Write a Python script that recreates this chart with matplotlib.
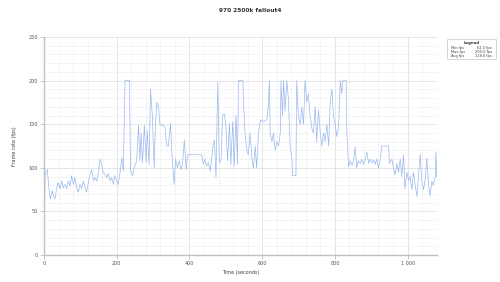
import numpy as np
import matplotlib
matplotlib.use("Agg")
import matplotlib.pyplot as plt
from matplotlib.ticker import MultipleLocator, FuncFormatter
from matplotlib.patches import Rectangle

# valores (tempo em s, fps)
t = [0, 2, 3, 9, 15, 18, 22, 26, 30, 35, 39, 44, 49, 53, 58, 62, 67, 72, 76, 81,
     85, 90, 94, 99, 104, 108, 113, 117, 122, 127, 131, 136, 140, 145, 149, 154,
     159, 163, 168, 172, 177, 182, 186, 191, 195, 200, 204, 209, 214, 218, 223,
     235, 238, 244, 248, 255, 260, 264, 267, 271, 276, 281, 284, 289, 293, 298,
     303, 306, 310, 315, 319, 326, 333, 337, 342, 348, 352, 358, 362, 367, 372,
     377, 381, 386, 391, 395, 402, 415, 434, 438, 443, 447, 452, 457, 461, 464,
     469, 473, 478, 482, 487, 491, 496, 500, 505, 510, 514, 519, 523, 528, 532,
     535, 547, 549, 553, 558, 562, 567, 572, 576, 581, 585, 590, 595, 604, 613,
     617, 620, 622, 627, 631, 636, 640, 645, 650, 652, 656, 659, 663, 668, 672,
     675, 677, 682, 684, 693, 695, 700, 705, 709, 714, 718, 723, 727, 732, 737,
     741, 746, 750, 755, 760, 764, 769, 773, 778, 783, 787, 792, 796, 801, 805,
     810, 815, 819, 822, 831, 833, 838, 842, 847, 851, 856, 860, 865, 870, 874,
     879, 883, 888, 893, 897, 902, 906, 911, 915, 920, 925, 929, 948, 950, 957,
     961, 966, 971, 975, 980, 984, 989, 993, 998, 1003, 1007, 1012, 1016, 1021,
     1026, 1030, 1035, 1039, 1044, 1048, 1053, 1058, 1062, 1067, 1071, 1076, 1078, 1080]
fps = [81, 62, 93, 98, 70, 64, 74, 68, 64, 77, 83, 76, 85, 77, 81, 76, 85, 79, 91, 81,
       89, 77, 72, 81, 76, 85, 77, 72, 83, 93, 98, 85, 89, 85, 93, 110,
       104, 94, 93, 89, 93, 85, 89, 81, 91, 85, 81, 94, 111, 96, 200,
       200, 96, 91, 100, 108, 149, 108, 140, 106, 149, 106, 143, 104, 190, 160,
       100, 142, 175, 170, 149, 149, 147, 126, 125, 151, 115, 81, 110, 100, 108,
       98, 104, 132, 98, 115, 115, 115, 115, 104, 110, 102, 106, 96, 110, 123,
       132, 89, 198, 106, 108, 160, 162, 149, 108, 151, 104, 153, 102, 160, 104,
       200, 200, 174, 140, 120, 115, 140, 110, 100, 125, 100, 140, 155, 153, 155,
       170, 200, 140, 130, 140, 120, 130, 125, 140, 200, 160, 200, 165, 200, 180,
       150, 125, 110, 91, 91, 200, 158, 150, 170, 150, 200, 175, 185, 160, 145,
       140, 170, 130, 166, 140, 125, 140, 130, 150, 125, 174, 190, 160, 150, 136,
       145, 200, 185, 200, 200, 140, 101, 108, 103, 107, 124, 100, 108, 105, 110,
       104, 109, 118, 105, 110, 106, 109, 104, 110, 100, 110, 125, 125, 105, 110,
       100, 92, 105, 95, 110, 90, 115, 76, 95, 85, 90, 75, 95, 80,
       67, 90, 115, 85, 75, 85, 111, 80, 68, 85, 80, 90, 118, 90]

titulo = "970 2500k fallout4"
legenda_nomes = ["Min fps", "Max fps", "Avg fps"]
legenda_vals = ["62.0 fps", "200.0 fps", "118.6 fps"]

plt.rc('font', family='DejaVu Sans')
fig = plt.figure(figsize=(5.0, 2.82), dpi=100)
ax = fig.add_axes([0.088, 0.0957, 0.786, 0.773])

ax.plot(t, fps, linewidth=0.5, color='#9ab8ee')

ax.set_xlim(0, 1081)
ax.set_ylim(0, 250)
ax.xaxis.set_major_locator(MultipleLocator(200))
ax.xaxis.set_minor_locator(MultipleLocator(40))
ax.yaxis.set_major_locator(MultipleLocator(50))
ax.yaxis.set_minor_locator(MultipleLocator(10))
ax.xaxis.set_major_formatter(FuncFormatter(lambda v, p: f"{int(v):,}".replace(",", " ")))

ax.grid(which='major', color='#e0e0e0', linewidth=0.6)
ax.grid(which='minor', color='#f0f0f0', linewidth=0.5)
ax.set_axisbelow(True)
for s in ['top', 'right']:
    ax.spines[s].set_visible(False)
for s in ['left', 'bottom']:
    ax.spines[s].set_color('#c0c0c0')
    ax.spines[s].set_linewidth(1.0)
ax.tick_params(which='major', length=3, width=0.6, color='#c0c0c0', labelsize=3.5,
               labelcolor='#555555', pad=1.5)
ax.tick_params(which='minor', length=0)

ax.set_xlabel("Time (seconds)", fontsize=3.5, color='#444444', labelpad=3)
ax.set_ylabel("Frame rate (fps)", fontsize=3.5, color='#444444', labelpad=8)
fig.text(0.5, 0.972, titulo, ha='center', va='top', fontsize=4.2,
         fontweight='bold', color='#333333')

# caixa da legenda
lx, ly, lw, lh = 0.894, 0.79, 0.098, 0.073
fig.patches.append(Rectangle((lx, ly), lw, lh, transform=fig.transFigure,
                             facecolor='white', edgecolor='#c8c8c8', linewidth=0.5))
fig.text(lx + lw / 2, ly + lh - 0.008, "Legend", ha='center', va='top',
         fontsize=2.8, fontweight='bold', color='#333333')
for i, (n, v) in enumerate(zip(legenda_nomes, legenda_vals)):
    yy = ly + lh - 0.027 - i * 0.014
    fig.text(lx + 0.008, yy, n, ha='left', va='top', fontsize=2.6, color='#444444')
    fig.text(lx + lw - 0.008, yy, v, ha='right', va='top', fontsize=2.6, color='#444444')

plt.savefig("out.png", dpi=100)
plt.close()
